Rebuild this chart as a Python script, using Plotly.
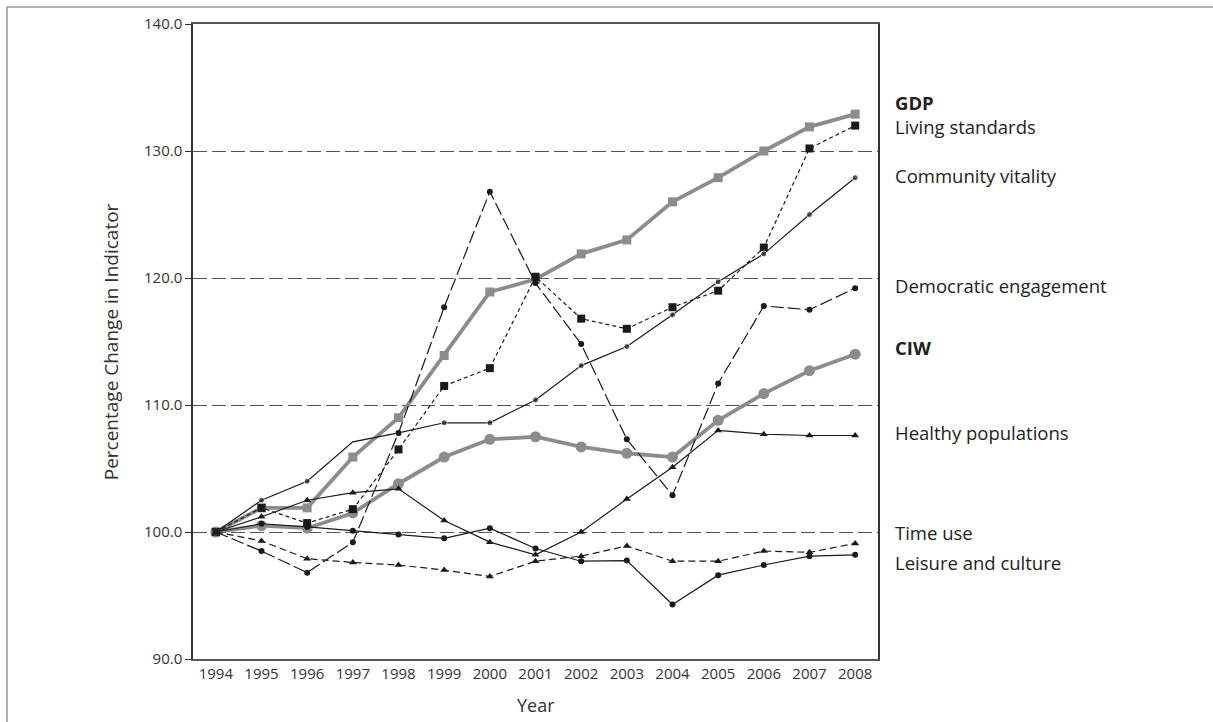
import plotly.graph_objects as go

years = [str(y) for y in range(1994, 2009)]

gdp = [100, 101.9, 101.9, 105.9, 109.0, 113.9, 118.9, 119.9, 121.9, 123.0, 126.0, 127.9, 130.0, 131.9, 132.9]
living_standards = [100, 101.9, 100.7, 101.8, 106.5, 111.5, 112.9, 120.1, 116.8, 116.0, 117.7, 119.0, 122.4, 130.2, 132.0]
community_vitality = [100, 102.5, 104.0, 107.1, 107.8, 108.6, 108.6, 110.4, 113.1, 114.6, 117.1, 119.7, 121.9, 125.0, 127.9]
democratic_engagement = [100, 98.5, 96.8, 99.2, 107.8, 117.7, 126.8, 119.6, 114.8, 107.3, 102.9, 111.7, 117.8, 117.5, 119.2]
ciw = [100, 100.5, 100.3, 101.5, 103.8, 105.9, 107.3, 107.5, 106.7, 106.2, 105.9, 108.8, 110.9, 112.7, 114.0]
healthy_populations = [100, 101.2, 102.5, 103.1, 103.4, 100.9, 99.2, 98.2, 100.0, 102.6, 105.1, 108.0, 107.7, 107.6, 107.6]
time_use = [100, 99.3, 97.9, 97.6, 97.4, 97.0, 96.5, 97.7, 98.1, 98.9, 97.7, 97.7, 98.5, 98.4, 99.1]
leisure_culture = [100, 100.65, 100.4, 100.1, 99.8, 99.5, 100.3, 98.7, 97.7, 97.75, 94.3, 96.6, 97.4, 98.1, 98.2]

label_texts = ["<b>GDP</b>", "Living standards", "Community vitality", "Democratic engagement",
               "<b>CIW</b>", "Healthy populations", "Time use", "Leisure and culture"]
label_y = [133.8, 131.9, 128.1, 119.4, 114.5, 107.8, 99.95, 97.6]

y_ticks = [90, 100, 110, 120, 130, 140]

GRAY = "#8c8c8c"
BLACK = "#1a1a1a"
FONT = "Open Sans"

fig = go.Figure()

fig.add_trace(go.Scatter(x=years, y=gdp, name="GDP", mode="lines+markers",
                         line=dict(color=GRAY, width=3.8),
                         marker=dict(symbol="square", size=9, color=GRAY)))
fig.add_trace(go.Scatter(x=years, y=ciw, name="CIW", mode="lines+markers",
                         line=dict(color=GRAY, width=3.8),
                         marker=dict(symbol="circle", size=11, color=GRAY)))
fig.add_trace(go.Scatter(x=years, y=living_standards, name="Living standards", mode="lines+markers",
                         line=dict(color=BLACK, width=1.2, dash="4px,3px"),
                         marker=dict(symbol="square", size=8, color=BLACK)))
cv_sizes = [6] * len(years)
cv_sizes[3] = 0
fig.add_trace(go.Scatter(x=years, y=community_vitality, name="Community vitality", mode="lines+markers",
                         line=dict(color=BLACK, width=1.2),
                         marker=dict(symbol="circle", size=cv_sizes, color=BLACK)))
fig.add_trace(go.Scatter(x=years, y=democratic_engagement, name="Democratic engagement", mode="lines+markers",
                         line=dict(color=BLACK, width=1.2, dash="13px,4px"),
                         marker=dict(symbol="circle", size=6, color=BLACK)))
fig.add_trace(go.Scatter(x=years, y=healthy_populations, name="Healthy populations", mode="lines+markers",
                         line=dict(color=BLACK, width=1.2),
                         marker=dict(symbol="triangle-up", size=7, color=BLACK)))
fig.add_trace(go.Scatter(x=years, y=time_use, name="Time use", mode="lines+markers",
                         line=dict(color=BLACK, width=1.2, dash="7px,4px"),
                         marker=dict(symbol="triangle-up", size=7, color=BLACK)))
fig.add_trace(go.Scatter(x=years, y=leisure_culture, name="Leisure and culture", mode="lines+markers",
                         line=dict(color=BLACK, width=1.2),
                         marker=dict(symbol="circle", size=6, color=BLACK)))

for txt, yv in zip(label_texts, label_y):
    fig.add_annotation(x=1.022, xref="paper", y=yv, yref="y", text=txt, showarrow=False,
                       xanchor="left", yanchor="middle",
                       font=dict(family=FONT, size=18.5, color="#222222"))

fig.add_annotation(x=-0.12, xref="paper", y=0.5, yref="paper", text="Percentage Change in Indicator",
                   textangle=-90, showarrow=False, xanchor="center", yanchor="middle",
                   font=dict(family=FONT, size=19, color="#333333"))
fig.add_annotation(x=0.5, xref="paper", y=-0.072, yref="paper", text="Year",
                   showarrow=False, xanchor="center", yanchor="middle",
                   font=dict(family=FONT, size=18, color="#333333"))

# outer frame
fig.add_shape(type="rect", xref="paper", yref="paper",
              x0=(7 - 193) / 685, x1=(1230 - 193) / 685,
              y0=(659 - 740) / 635, y1=(659 - 7) / 635,
              line=dict(color="#999999", width=1.5), fillcolor="rgba(0,0,0,0)", layer="below")

fig.update_layout(
    width=1213, height=722,
    margin=dict(l=193, r=335, t=24, b=63),
    paper_bgcolor="white", plot_bgcolor="white",
    showlegend=False,
    font=dict(family=FONT, color="#333333"),
)
fig.update_xaxes(type="category", range=[-0.5, 14.5], showgrid=False, zeroline=False,
                 showline=True, linecolor="#555555", linewidth=1.5, mirror=True,
                 ticks="", tickfont=dict(family=FONT, size=15, color="#333333"))
fig.update_yaxes(range=[90, 140], tickvals=y_ticks, ticktext=[f"{v:.1f}" for v in y_ticks],
                 showgrid=True, gridcolor="#555555", gridwidth=1, griddash="14px,5px",
                 zeroline=False, showline=True, linecolor="#333333", linewidth=1.5, mirror=True,
                 ticks="outside", ticklen=6, tickcolor="#333333",
                 tickfont=dict(family=FONT, size=15, color="#333333"))

fig.write_html("out.html", config={"displayModeBar": False},
               post_script="document.body.style.margin='0';")
